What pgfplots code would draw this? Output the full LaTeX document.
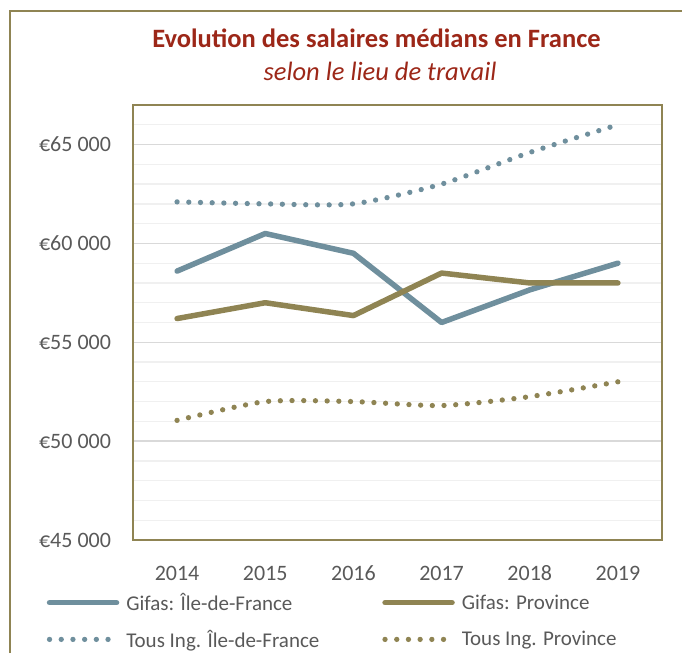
\documentclass[border=0pt]{standalone}
\usepackage{fontspec}
\setmainfont{Carlito}
\usepackage{pgfplots}
\pgfplotsset{compat=1.18}
\definecolor{bluegray}{HTML}{6F8F9D}
\definecolor{olivec}{HTML}{8F8453}
\definecolor{titlered}{HTML}{9C2718}
\definecolor{txt}{HTML}{595959}
\definecolor{majgrid}{HTML}{D9D9D9}
\definecolor{mingrid}{HTML}{F0F0F0}
\begin{document}
\begin{tikzpicture}[x=1pt,y=1pt]
\useasboundingbox (0,0) rectangle (682,653);
\draw[olivec, line width=2.5pt] (10,0) -- (10,642) -- (682,642);
\node[font=\fontsize{26.5}{30}\selectfont\bfseries, text=titlered] at (376.5,615) {Evolution des salaires médians en France};
\node[font=\fontsize{26.5}{30}\selectfont\itshape, text=titlered] at (380,582) {selon le lieu de travail};
\begin{axis}[
  at={(133pt,113pt)}, anchor=south west,
  scale only axis, width=529pt, height=435pt,
  xmin=2013.5, xmax=2019.5, ymin=45000, ymax=67000,
  scaled y ticks=false,
  axis line style={olivec, line width=2.5pt},
  xtick={2014,2015,2016,2017,2018,2019},
  xticklabels={2014,2015,2016,2017,2018,2019},
  ytick={45000,50000,55000,60000,65000},
  yticklabels={€45 000,€50 000,€55 000,€60 000,€65 000},
  minor ytick={46000,47000,48000,49000,51000,52000,53000,54000,56000,57000,58000,59000,61000,62000,63000,64000,66000,67000},
  ymajorgrids, yminorgrids,
  major grid style={majgrid, line width=1.3pt},
  minor grid style={mingrid, line width=1.3pt},
  major tick length=0pt, minor tick length=0pt,
  tick style={draw=none},
  ticklabel style={font=\fontsize{22}{26}\selectfont, text=txt},
  yticklabel style={xshift=-18.5pt},
  xticklabel style={anchor=base, yshift=-40pt},
  legend columns=2,
  legend style={at={(-0.169,-0.113)}, anchor=north west, draw=none, fill=none,
    font=\fontsize{21}{25}\selectfont, text=txt, row sep=14pt,
    /tikz/every odd column/.append style={column sep=5pt}},
  legend cell align=left,
  legend image code/.code={\draw[#1] (0pt,0pt) -- (67pt,0pt);},
]
\addplot[bluegray, line width=5.5pt, line cap=round, line join=round] coordinates {
 (2014,58600) (2015,60500) (2016,59500) (2017,56000) (2018,57650) (2019,59000)};
\addlegendentry{\makebox[254pt][l]{Gifas: Île-de-France}}
\addplot[olivec, line width=5.5pt, line cap=round, line join=round] coordinates {
 (2014,56200) (2015,57000) (2016,56350) (2017,58500) (2018,58000) (2019,58000)};
\addlegendentry{Gifas: Province}
\addplot[bluegray, line width=5.3pt, line cap=round, dash pattern=on 0pt off 11.7pt, smooth, tension=0.4] coordinates {
 (2014,62100) (2015,62000) (2016,62000) (2017,63000) (2018,64600) (2019,66000)};
\addlegendentry{\makebox[254pt][l]{Tous Ing. Île-de-France}}
\addplot[olivec, line width=5.3pt, line cap=round, dash pattern=on 0pt off 11.7pt, smooth, tension=0.4] coordinates {
 (2014,51050) (2015,52000) (2016,52000) (2017,51800) (2018,52250) (2019,53000)};
\addlegendentry{Tous Ing. Province}
\end{axis}
\end{tikzpicture}
\end{document}
